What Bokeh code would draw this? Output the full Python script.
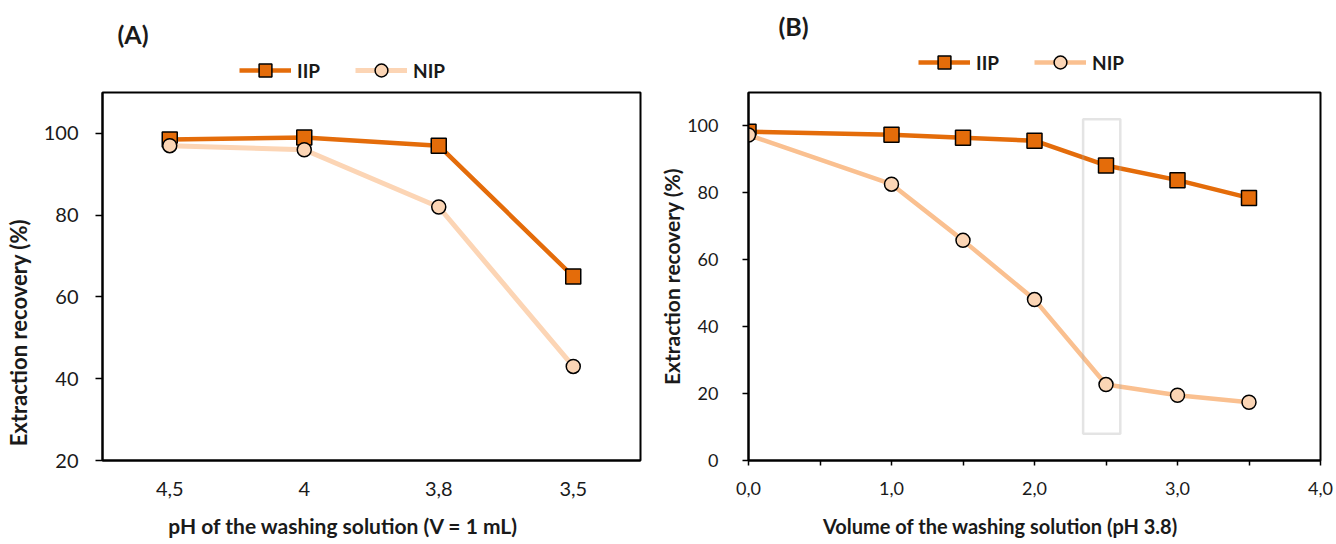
from bokeh.plotting import figure
from bokeh.models import (Legend, LegendItem, FixedTicker, Range1d, FactorRange,
                          BoxAnnotation, Label)
from bokeh.layouts import row, column
from bokeh.embed import file_html
from bokeh.resources import INLINE

# ---------------- data ----------------
ph_labels = ["4,5", "4", "3,8", "3,5"]
iip_ph = [98.5, 99.0, 97.0, 65.0]
nip_ph = [97.0, 96.0, 82.0, 43.0]

volume = [0.0, 1.0, 1.5, 2.0, 2.5, 3.0, 3.5]
iip_vol = [98.3, 97.4, 96.5, 95.6, 88.2, 83.8, 78.5]
nip_vol = [97.3, 82.6, 65.8, 48.1, 22.7, 19.5, 17.4]

vol_ticks = [0, 1, 2, 3, 4]
vol_minor_ticks = [0.5, 1.5, 2.5, 3.5]
vol_tick_labels = ["0,0", "1,0", "2,0", "3,0", "4,0"]
y_ticks_a = [20, 40, 60, 80, 100]
y_ticks_b = [0, 20, 40, 60, 80, 100]
highlight_x = [2.34, 2.60]
highlight_y = [8, 102]
series_names = ["IIP", "NIP"]
panel_titles = ["(A)", "(B)"]
y_title = "Extraction recovery (%)"
x_title_a = "pH of the washing solution (V = 1 mL)"
x_title_b = "Volume of the washing solution (pH 3.8)"

IIP_C = "#E46C0A"
NIP_LINE_A = "#FCD5B5"
NIP_LINE_B = "#FAC090"
NIP_FILL = "#FBD5B5"
FONT = "Lato"
TXT = "#1a1a1a"
NB = "\u00a0"

W1, W2 = 656, 680
H_TOP, H_MAIN = 86, 458


def style_axes(p, tick_size, title_size):
    p.xgrid.visible = False
    p.ygrid.visible = False
    p.outline_line_color = "black"
    p.outline_line_width = 2
    for ax in (p.xaxis[0], p.yaxis[0]):
        ax.axis_line_width = 2
        ax.axis_line_color = "black"
        ax.major_tick_line_color = "black"
        ax.major_tick_line_width = 1.5
        ax.minor_tick_line_color = "black"
        ax.minor_tick_line_width = 1.5
        ax.major_tick_in = 0
        ax.minor_tick_in = 0
        ax.major_label_text_font = FONT
        ax.major_label_text_font_size = tick_size
        ax.major_label_text_color = TXT
        ax.axis_label_text_font = FONT
        ax.axis_label_text_font_size = title_size
        ax.axis_label_text_font_style = "bold"
        ax.axis_label_text_color = TXT


def add_series(p, x, iip, nip, nip_line_color, nip_width, visible=True):
    l1 = p.line(x, iip, line_color=IIP_C, line_width=4.5, visible=visible)
    s1 = p.scatter(x, iip, marker="square", size=15, fill_color=IIP_C,
                   line_color="black", line_width=1.5, visible=visible)
    l2 = p.line(x, nip, line_color=nip_line_color, line_width=nip_width,
                visible=visible)
    s2 = p.scatter(x, nip, marker="circle", size=14, fill_color=NIP_FILL,
                   line_color="black", line_width=1.5, visible=visible)
    return [[l1, s1], [l2, s2]]


def header(width, x_range, x, iip, nip, nip_line_color, nip_width,
           legend_loc, title, title_xy):
    h = figure(width=width, height=H_TOP, x_range=x_range,
               y_range=Range1d(0, 1), x_axis_location=None,
               y_axis_location=None, toolbar_location=None,
               output_backend="svg", min_border=0)
    h.outline_line_color = None
    h.xgrid.visible = False
    h.ygrid.visible = False
    rs = add_series(h, x, iip, nip, nip_line_color, nip_width, visible=False)
    lg = Legend(items=[LegendItem(label=n, renderers=r)
                       for n, r in zip(series_names, rs)],
                orientation="horizontal", location=legend_loc,
                click_policy="none",
                glyph_width=52, glyph_height=32, label_standoff=6, spacing=35,
                padding=0, margin=0, border_line_color=None,
                background_fill_alpha=0, label_text_font=FONT,
                label_text_font_style="bold", label_text_font_size="19px",
                label_text_color=TXT)
    h.add_layout(lg, "center")
    h.add_layout(Label(x=title_xy[0], y=title_xy[1], x_units="screen",
                       y_units="screen", text=title, text_font=FONT,
                       text_font_size="25px", text_font_style="bold",
                       text_color=TXT, text_baseline="middle"))
    return h


# ---------------- panel A ----------------
p1 = figure(x_range=FactorRange(factors=ph_labels), y_range=Range1d(20, 110),
            width=W1, height=H_MAIN, output_backend="svg",
            toolbar_location=None,
            min_border_left=102, min_border_right=16, min_border_top=6,
            min_border_bottom=84)
style_axes(p1, "20px", "22px")
p1.yaxis.ticker = FixedTicker(ticks=y_ticks_a)
p1.yaxis.major_tick_out = 7
p1.yaxis.minor_tick_out = 0
p1.yaxis.major_label_standoff = 17
p1.yaxis.axis_label = y_title + NB * 21
p1.yaxis.axis_label_standoff = 9
p1.xaxis.major_tick_out = 0
p1.xaxis.minor_tick_out = 0
p1.xaxis.major_label_standoff = 21
p1.xaxis.axis_label = x_title_a + NB * 11
p1.xaxis.axis_label_standoff = 14
p1.xaxis.axis_label_text_font_size = "21px"
add_series(p1, ph_labels, iip_ph, nip_ph, NIP_LINE_A, 5)

h1 = header(W1, FactorRange(factors=ph_labels), ph_labels, iip_ph, nip_ph,
            NIP_LINE_A, 5, (239, 0), panel_titles[0], (117, 53))

# ---------------- panel B ----------------
p2 = figure(x_range=Range1d(0, 4), y_range=Range1d(0, 110),
            width=W2, height=H_MAIN, output_backend="svg",
            toolbar_location=None,
            min_border_left=91, min_border_right=16, min_border_top=1,
            min_border_bottom=84)
style_axes(p2, "18px", "20px")
p2.xaxis.ticker = FixedTicker(ticks=vol_ticks, minor_ticks=vol_minor_ticks)
p2.xaxis.major_label_overrides = dict(zip(vol_ticks, vol_tick_labels))
p2.xaxis.major_tick_out = 5
p2.xaxis.minor_tick_out = 5
p2.xaxis.major_label_standoff = 16
p2.xaxis.axis_label = x_title_b + NB * 14
p2.xaxis.axis_label_standoff = 16
p2.yaxis.ticker = FixedTicker(ticks=y_ticks_b)
p2.yaxis.major_tick_out = 6
p2.yaxis.minor_tick_out = 0
p2.yaxis.major_label_standoff = 24
p2.yaxis.axis_label = y_title
p2.yaxis.axis_label_standoff = 0
p2.yaxis.axis_label_text_font_size = "21px"

p2.add_layout(BoxAnnotation(left=highlight_x[0], right=highlight_x[1],
                            bottom=highlight_y[0], top=highlight_y[1],
                            fill_alpha=0, line_color="#A6A6A6", line_width=2.5))
add_series(p2, volume, iip_vol, nip_vol, NIP_LINE_B, 4.5)

h2 = header(W2, Range1d(0, 4), volume, iip_vol, nip_vol, NIP_LINE_B, 4.5,
            (262, 8), panel_titles[1], (122, 61))

layout = column(row(h1, h2), row(p1, p2))
open("out.html", "w").write(file_html(layout, INLINE))
